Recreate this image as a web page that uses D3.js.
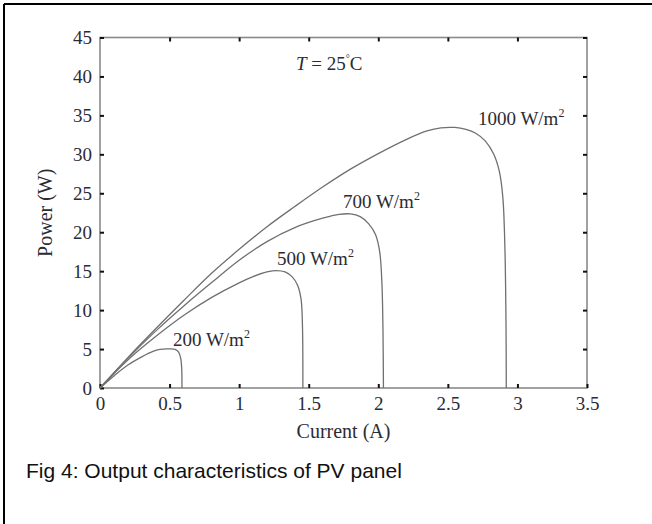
<!DOCTYPE html>
<html>
<head>
<meta charset="utf-8">
<script src="https://cdn.jsdelivr.net/npm/d3@7"></script>
<style>
  html, body { margin: 0; padding: 0; background: #fff; }
  svg { display: block; }
</style>
</head>
<body>
<svg id="chart" width="652" height="524"></svg>
<script>
// ---- data ----
const xTicks = [0, 0.5, 1, 1.5, 2, 2.5, 3, 3.5];
const xTickLabels = ["0", "0.5", "1", "1.5", "2", "2.5", "3", "3.5"];
const yTicks = [0, 5, 10, 15, 20, 25, 30, 35, 40, 45];
const yTickLabels = ["0", "5", "10", "15", "20", "25", "30", "35", "40", "45"];

const seriesNames = ["1000 W/m", "700 W/m", "500 W/m", "200 W/m"];

// [current (A), power (W)]
const curve1000 = [[0,0],[0.2,3.9],[0.4,7.6],[0.6,11.2],[0.8,14.7],[1.0,17.8],[1.2,20.7],[1.4,23.3],[1.6,25.8],[1.8,28.1],[2.0,30.1],[2.2,31.9],[2.35,33.0],[2.45,33.4],[2.55,33.45],[2.63,33.2],[2.7,32.7],[2.77,31.7],[2.83,30.0],[2.87,27.8],[2.895,24.5],[2.91,18],[2.918,8],[2.92,0]];
const curve700 = [[0,0],[0.2,3.8],[0.4,7.3],[0.6,10.5],[0.8,13.5],[1.0,16.4],[1.2,18.8],[1.4,20.6],[1.6,21.8],[1.72,22.3],[1.8,22.35],[1.87,22.0],[1.93,21.1],[1.98,19.7],[2.01,17.5],[2.026,13.5],[2.034,7],[2.037,0]];
const curve500 = [[0,0],[0.2,3.6],[0.4,6.6],[0.6,9.3],[0.8,11.6],[1.0,13.5],[1.1,14.3],[1.2,14.9],[1.27,15.08],[1.33,14.9],[1.38,14.3],[1.42,13.2],[1.445,11.4],[1.455,8],[1.458,0]];
const curve200 = [[0,0],[0.1,1.55],[0.2,2.95],[0.3,4.0],[0.38,4.7],[0.43,4.97],[0.5,5.02],[0.54,4.95],[0.565,4.6],[0.58,3.8],[0.587,2.6],[0.589,0]];

// ---- drawing ----
const svg = d3.select("#chart");
const W = 652, H = 524;
const x = d3.scaleLinear().domain([0, 3.5]).range([100, 587]);
const y = d3.scaleLinear().domain([0, 45]).range([388, 37.5]);

// outer frame (top and left lines)
svg.append("line").attr("x1", 4).attr("y1", 4).attr("x2", W).attr("y2", 4)
  .attr("stroke", "#000").attr("stroke-width", 2);
svg.append("line").attr("x1", 4).attr("y1", 4).attr("x2", 4).attr("y2", H)
  .attr("stroke", "#000").attr("stroke-width", 2);

const serif = "'Liberation Serif', 'Times New Roman', serif";
const textColor = "#2b2b33";

// plot box
svg.append("rect")
  .attr("x", x(0)).attr("y", y(45))
  .attr("width", x(3.5) - x(0)).attr("height", y(0) - y(45))
  .attr("fill", "none").attr("stroke", "#8a8a8a").attr("stroke-width", 1.6);

function styleAxis(g) {
  g.select(".domain").remove();
  g.selectAll(".tick line").attr("stroke", "#111").attr("stroke-width", 2);
  g.selectAll(".tick text").attr("fill", textColor)
    .style("font-family", serif).style("font-size", "19px");
}

// bottom axis
svg.append("g").attr("transform", `translate(0,${y(0)})`)
  .call(d3.axisBottom(x).tickValues(xTicks).tickFormat((d, i) => xTickLabels[i])
    .tickSizeInner(-4).tickSizeOuter(0).tickPadding(9))
  .call(styleAxis);
// top axis
svg.append("g").attr("transform", `translate(0,${y(45)})`)
  .call(d3.axisTop(x).tickValues(xTicks.slice(1, -1)).tickFormat("")
    .tickSizeInner(-4).tickSizeOuter(0))
  .call(styleAxis);
// left axis
svg.append("g").attr("transform", `translate(${x(0)},0)`)
  .call(d3.axisLeft(y).tickValues(yTicks).tickFormat((d, i) => yTickLabels[i])
    .tickSizeInner(-4).tickSizeOuter(0).tickPadding(8))
  .call(styleAxis);
// right axis
svg.append("g").attr("transform", `translate(${x(3.5)},0)`)
  .call(d3.axisRight(y).tickValues(yTicks.slice(1)).tickFormat("")
    .tickSizeInner(-4).tickSizeOuter(0))
  .call(styleAxis);

// curves
const line = d3.line().x(d => x(d[0])).y(d => y(d[1])).curve(d3.curveCatmullRom.alpha(0.5));
const curves = [curve1000, curve700, curve500, curve200];
svg.append("g").selectAll("path").data(curves).join("path")
  .attr("d", line).attr("fill", "none")
  .attr("stroke", "#707070").attr("stroke-width", 1.3);

// curve labels
const lab = svg.append("g").style("font-family", serif).style("font-size", "19px").attr("fill", textColor);
const labelPos = [[478, 125], [343, 208], [277, 265], [173, 346]];
seriesNames.forEach((name, i) => {
  const t = lab.append("text").attr("x", labelPos[i][0]).attr("y", labelPos[i][1]);
  t.append("tspan").text(name);
  t.append("tspan").attr("dy", -8).style("font-size", "12px").text("2");
});

// T = 25 °C
const tt = svg.append("text").attr("x", 296).attr("y", 70)
  .style("font-family", serif).style("font-size", "19px").attr("fill", textColor);
tt.append("tspan").style("font-style", "italic").text("T");
tt.append("tspan").text(" = 25");
tt.append("tspan").attr("dy", -8).style("font-size", "10px").text("°");
tt.append("tspan").attr("dy", 8).text("C");

// axis titles
svg.append("text").attr("x", (x(0) + x(3.5)) / 2).attr("y", 438).attr("text-anchor", "middle")
  .style("font-family", serif).style("font-size", "20px").attr("fill", textColor)
  .text("Current (A)");
svg.append("text").attr("transform", `translate(52,${(y(0) + y(45)) / 2}) rotate(-90)`)
  .attr("text-anchor", "middle")
  .style("font-family", serif).style("font-size", "20px").attr("fill", textColor)
  .text("Power (W)");

// caption
svg.append("text").attr("x", 26).attr("y", 478)
  .style("font-family", "'Liberation Sans', Arial, sans-serif").style("font-size", "21px")
  .attr("fill", "#111").text("Fig 4: Output characteristics of PV panel");
</script>
</body>
</html>
